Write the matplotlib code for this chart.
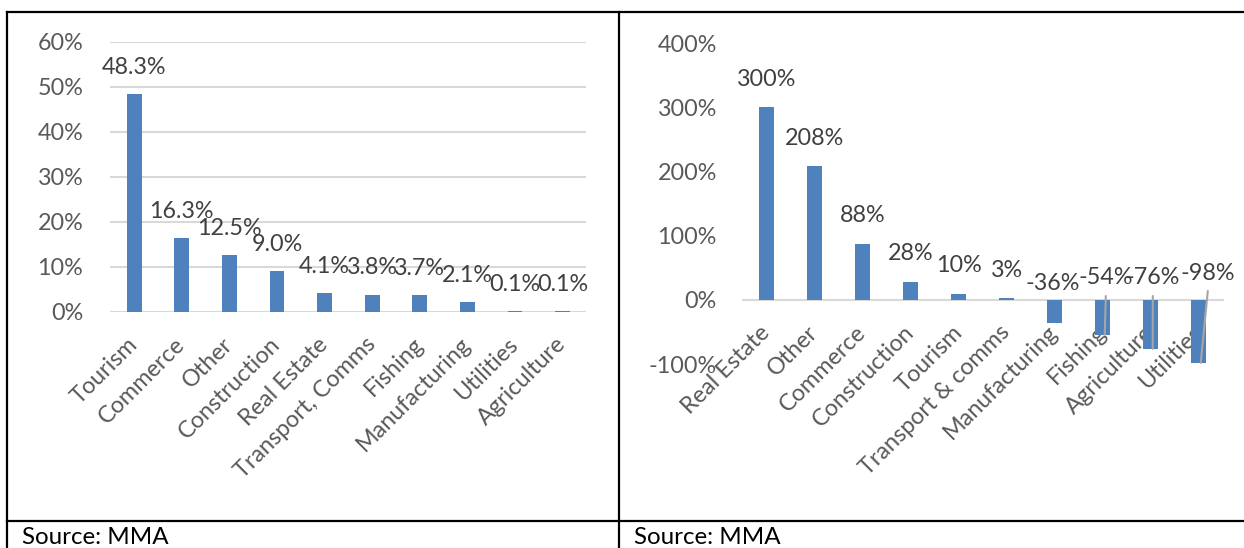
import matplotlib.pyplot as plt
from matplotlib.lines import Line2D
from matplotlib.text import OffsetFrom

# share of credit by sector
share_sectors = ['Tourism', 'Commerce', 'Other', 'Construction', 'Real Estate',
                 'Transport, Comms', 'Fishing', 'Manufacturing', 'Utilities', 'Agriculture']
share_values = [48.3, 16.3, 12.5, 9.0, 4.1, 3.8, 3.7, 2.1, 0.1, 0.1]

# growth by sector
growth_sectors = ['Real Estate', 'Other', 'Commerce', 'Construction', 'Tourism',
                  'Transport & comms', 'Manufacturing', 'Fishing', 'Agriculture', 'Utilities']
growth_values = [300, 208, 88, 28, 10, 3, -36, -54, -76, -98]

W, H = 1244, 548
BLUE = '#4F81BD'
GRID = '#D9D9D9'
TICK = '#595959'
LABEL = '#404040'

plt.rcParams['font.family'] = ['Lato', 'DejaVu Sans']
FS = 16.8

fig = plt.figure(figsize=(W / 100, H / 100), dpi=100)

def px_box(x0, x1, y_top, y_bot):
    return [x0 / W, 1 - y_bot / H, (x1 - x0) / W, (y_bot - y_top) / H]

# ---- left chart ----
ax1 = fig.add_axes(px_box(110.4, 586.4, 41.7, 311.7))
x1 = range(len(share_values))
ax1.bar(x1, [v / 100 for v in share_values], width=0.315, color=BLUE, zorder=3)
ax1.set_xlim(-0.5, len(share_values) - 0.5)
ax1.set_ylim(0, 0.6)
ax1.set_yticks([i / 10 for i in range(7)])
ax1.set_yticklabels([f'{i * 10}%' for i in range(7)])
ax1.grid(axis='y', color=GRID, lw=1.5, zorder=0)
for s in ax1.spines.values():
    s.set_visible(False)
ax1.tick_params(axis='y', length=0, pad=19.5, labelsize=FS, labelcolor=TICK)
ax1.set_xticks(list(x1))
ax1.set_xticklabels(share_sectors, rotation=45, ha='right', va='center',
                    rotation_mode='anchor')
ax1.tick_params(axis='x', length=0, pad=21, labelsize=FS, labelcolor=TICK)
for i, v in enumerate(share_values):
    ax1.annotate(f'{v:.1f}%', (i, v / 100), xytext=(0, 19.4), textcoords='offset points',
                 ha='center', va='center', fontsize=FS, color=LABEL, zorder=4)

# ---- right chart ----
ax2 = fig.add_axes(px_box(742.8, 1222.8, 43.2, 364.2))
x2 = range(len(growth_values))
ax2.bar(x2, [v / 100 for v in growth_values], width=0.315, color=BLUE, zorder=3)
ax2.set_xlim(-0.5, len(growth_values) - 0.5)
ax2.set_ylim(-1, 4)
ax2.set_yticks(range(-1, 5))
ax2.set_yticklabels([f'{i * 100}%' for i in range(-1, 5)])
for k in ('top', 'right', 'left'):
    ax2.spines[k].set_visible(False)
ax2.spines['bottom'].set_position(('data', 0))
ax2.spines['bottom'].set_color(GRID)
ax2.spines['bottom'].set_linewidth(1.5)
ax2.tick_params(axis='y', length=0, pad=18.6, labelsize=FS, labelcolor=TICK)
ax2.set_xticks(list(x2))
ax2.set_xticklabels(growth_sectors, rotation=45, ha='right', va='center',
                    rotation_mode='anchor')
ax2.tick_params(axis='x', length=0, pad=21, labelsize=FS, labelcolor=TICK)

# negative labels sit above the zero line, some with leader lines (offsets in px)
neg_offsets = {6: (-2, 17, False), 7: (3, 22, True), 8: (2, 22, True), 9: (9, 27, True)}
for i, v in enumerate(growth_values):
    if v >= 0:
        ax2.annotate(f'{v}%', (i, v / 100), xytext=(0, 20.2), textcoords='offset points',
                     ha='center', va='center', fontsize=FS, color=LABEL, zorder=4)
    else:
        dx, dy, leader = neg_offsets[i]
        ax2.annotate(f'{v}%', (i, 0), xytext=(dx * 0.72, dy * 0.72),
                     textcoords='offset points', ha='center', va='center',
                     fontsize=FS, color=LABEL, zorder=4)
        if leader:
            # leader from just under the label down to the bar end
            ax2.annotate('', xy=(i + 0.04, v / 100), xycoords='data',
                         xytext=(dx * 0.72, (dy - 18) * 0.72),
                         textcoords=OffsetFrom(ax2.transData, (i, 0), unit='points'),
                         arrowprops=dict(arrowstyle='-', color='#A6A6A6', lw=1.5,
                                         shrinkA=0, shrinkB=0), zorder=5)

# ---- table frame ----
def hline(y, x0, x1):
    fig.add_artist(Line2D([x0 / W, x1 / W], [1 - y / H, 1 - y / H], color='black', lw=1.6))

def vline(x, y0, y1):
    fig.add_artist(Line2D([x / W, x / W], [1 - y0 / H, 1 - y1 / H], color='black', lw=1.6))

hline(11.5, 7.3, W)
hline(520.7, 7.3, W)
vline(7.3, 11.5, H)
vline(619, 11.5, H)

fig.text(22 / W, 1 - 537 / H, 'Source: MMA', fontsize=FS + 0.6, color='black', va='center')
fig.text(634 / W, 1 - 537 / H, 'Source: MMA', fontsize=FS + 0.6, color='black', va='center')

fig.savefig('out.png', dpi=100)
